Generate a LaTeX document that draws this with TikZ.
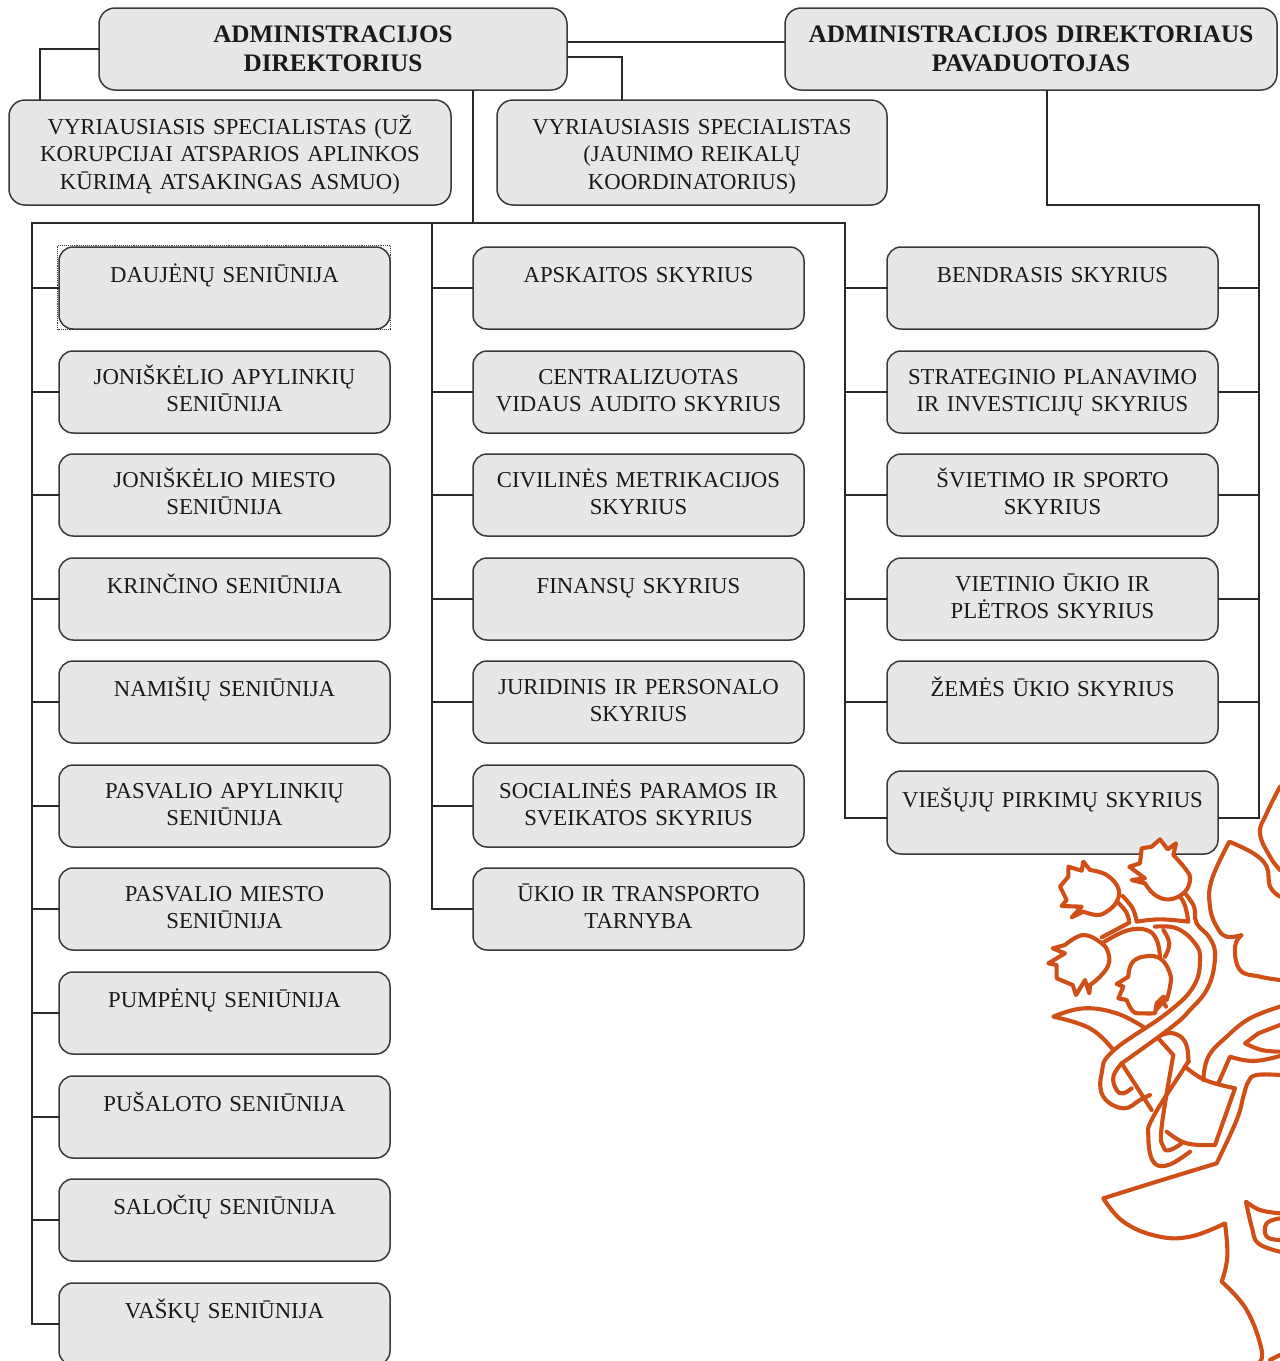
\documentclass[tikz,border=0pt]{standalone}
\usepackage{fontspec}
\setmainfont{Liberation Serif}
\definecolor{boxfill}{HTML}{E7E7E7}
\definecolor{boxline}{HTML}{3A3A3A}
\definecolor{logo}{HTML}{CF4F17}
\definecolor{txt}{HTML}{1A1A1A}
\newcommand\one[1]{\rule{0pt}{25.25pt}#1\rule[-35.75pt]{0pt}{1pt}}
\newcommand\two[2]{\rule{0pt}{24.25pt}#1\\#2\rule[-12.25pt]{0pt}{1pt}}
\newcommand\twotop[2]{\rule{0pt}{26pt}#1\\#2\rule[-10pt]{0pt}{1pt}}
\newcommand\three[3]{\rule{0pt}{26.25pt}#1\\#2\\#3\strut}
\tikzset{
  box/.style={draw=boxline,line width=1.5pt,fill=boxfill,rounded corners=14pt,anchor=north west,outer sep=0pt,
    inner sep=0pt,minimum width=331pt,minimum height=82pt,text width=329pt,align=center,text=txt,
    font=\fontsize{22.75}{27.5}\selectfont},
  topbox/.style={box,rounded corners=16pt},
  wire/.style={draw=boxline!70!black,line width=1.5pt},
  lg/.style={draw=logo,line width=4.1pt,line join=round,line cap=round},
  sm/.style={smooth,tension=.7},
}
\begin{document}
\begin{tikzpicture}[x=1pt,y=-1pt]
\useasboundingbox (0,0) rectangle (1280,1361);
\clip (0,0) rectangle (1280,1361);
\fill[white] (0,0) rectangle (1280,1361);
% top row
\node[topbox,minimum width=468pt,text width=460pt,minimum height=82pt,font=\fontsize{25.2}{28.5}\selectfont\bfseries] (dir) at (99,8) {\twotop{ADMINISTRACIJOS}{DIREKTORIUS}};
\node[topbox,minimum width=492pt,text width=484pt,minimum height=82pt,font=\fontsize{25.2}{28.5}\selectfont\bfseries] (dep) at (785,8) {\twotop{ADMINISTRACIJOS DIREKTORIAUS}{PAVADUOTOJAS}};
\node[topbox,minimum width=442pt,text width=434pt,minimum height=105pt] (vsa) at (9,100) {\three{VYRIAUSIASIS SPECIALISTAS (UŽ}{KORUPCIJAI ATSPARIOS APLINKOS}{KŪRIMĄ ATSAKINGAS ASMUO)}};
\node[topbox,minimum width=390pt,text width=382pt,minimum height=105pt] (vsb) at (497,100) {\three{VYRIAUSIASIS SPECIALISTAS}{(JAUNIMO REIKALŲ}{KOORDINATORIUS)}};
% column 1
\node[box] (a1) at (59,247) {\one{DAUJĖNŲ SENIŪNIJA}};
\node[box] (a2) at (59,351) {\two{JONIŠKĖLIO APYLINKIŲ}{SENIŪNIJA}};
\node[box] (a3) at (59,454) {\two{JONIŠKĖLIO MIESTO}{SENIŪNIJA}};
\node[box] (a4) at (59,558) {\one{KRINČINO SENIŪNIJA}};
\node[box] (a5) at (59,661) {\one{NAMIŠIŲ SENIŪNIJA}};
\node[box] (a6) at (59,765) {\two{PASVALIO APYLINKIŲ}{SENIŪNIJA}};
\node[box] (a7) at (59,868) {\two{PASVALIO MIESTO}{SENIŪNIJA}};
\node[box] (a8) at (59,972) {\one{PUMPĖNŲ SENIŪNIJA}};
\node[box] (a9) at (59,1076) {\one{PUŠALOTO SENIŪNIJA}};
\node[box] (a10) at (59,1179) {\one{SALOČIŲ SENIŪNIJA}};
\node[box] (a11) at (59,1283) {\one{VAŠKŲ SENIŪNIJA}};
% column 2
\node[box] (b1) at (473,247) {\one{APSKAITOS SKYRIUS}};
\node[box] (b2) at (473,351) {\two{CENTRALIZUOTAS}{VIDAUS AUDITO SKYRIUS}};
\node[box] (b3) at (473,454) {\two{CIVILINĖS METRIKACIJOS}{SKYRIUS}};
\node[box] (b4) at (473,558) {\one{FINANSŲ SKYRIUS}};
\node[box] (b5) at (473,661) {\two{JURIDINIS IR PERSONALO}{SKYRIUS}};
\node[box] (b6) at (473,765) {\two{SOCIALINĖS PARAMOS IR}{SVEIKATOS SKYRIUS}};
\node[box] (b7) at (473,868) {\two{ŪKIO IR TRANSPORTO}{TARNYBA}};
% column 3
\node[box] (c1) at (887,247) {\one{BENDRASIS SKYRIUS}};
\node[box] (c2) at (887,351) {\two{STRATEGINIO PLANAVIMO}{IR INVESTICIJŲ SKYRIUS}};
\node[box] (c3) at (887,454) {\two{ŠVIETIMO IR SPORTO}{SKYRIUS}};
\node[box] (c4) at (887,558) {\two{VIETINIO ŪKIO IR}{PLĖTROS SKYRIUS}};
\node[box] (c5) at (887,661) {\one{ŽEMĖS ŪKIO SKYRIUS}};
\node[box,minimum height=83pt] (c6) at (887,771) {\one{VIEŠŲJŲ PIRKIMŲ SKYRIUS}};
% selection frame
\draw[boxline,line width=.9pt,densely dotted] ([shift={(-1.5,-1.5)}]a1.north west) rectangle ([shift={(.5,.5)}]a1.south east);
% connector anchors
\coordinate (busL) at (32,223);
\coordinate (busM) at (432,223);
\coordinate (busR) at (845,223);
\coordinate (busT) at (473,223);
\coordinate (depR) at (1259,205);
\coordinate (depD) at (1047,90);
\coordinate (dirEa) at (567,42);
\coordinate (depWa) at (785,42);
\coordinate (dirEb) at (567,57);
\coordinate (vsbT) at (622,100);
\coordinate (vsaT) at (40,100);
\coordinate (dirS) at (473,90);
\coordinate (cbL) at (887,818);
\coordinate (cbR) at (1218,818);
% connectors
\draw[wire] (dir.west) -| (vsaT);
\draw[wire] (dirEa) -- (depWa);
\draw[wire] (dirEb) -| (vsbT);
\draw[wire] (dirS) -- (busT);
\draw[wire] (a11.west) -| (busL) -- (busR) |- (cbL);
\draw[wire] (busM) |- (b7.west);
\foreach \n in {a1,a2,a3,a4,a5,a6,a7,a8,a9,a10} \draw[wire] (\n.west) -- (\n.west -| busL);
\foreach \n in {b1,b2,b3,b4,b5,b6} \draw[wire] (\n.west) -- (\n.west -| busM);
\foreach \n in {c1,c2,c3,c4,c5} {\draw[wire] (\n.west) -- (\n.west -| busR);
  \draw[wire] (\n.east) -- (\n.east -| depR);}
\draw[wire] (depD) |- (depR) |- (cbR);
% emblem
\begin{scope}[shift={(1000,780)},x=.33333pt,y=-.33333pt]
\begin{scope}[lg]
% stems
\draw plot[sm] coordinates {(348,362)(378,395)(388,428)} -- (305,472);
\draw plot[sm] coordinates {(368,348)(398,385)(410,425)} -- plot[sm] coordinates {(410,425)(480,418)(565,425)} -- plot[sm] coordinates {(565,425)(556,380)(540,348)};
\draw plot[sm] coordinates {(555,340)(582,380)(590,430)(630,475)(645,530)(625,620)(570,690)(510,745)(365,850)};
\draw plot[sm] coordinates {(465,440)(530,445)(585,490)(600,540)(580,620)(500,700)(340,812)(305,880)(310,950)(370,985)(420,960)(450,945)};
\draw plot[sm] coordinates {(305,490)(380,452)(440,450)(470,480)(480,530)};
\draw plot[sm] coordinates {(490,450)(508,490)(495,530)};
% left leaf
\draw plot[sm] coordinates {(340,810)(270,745)(160,710)} -- plot[sm] coordinates {(160,710)(250,685)(350,700)(432,742)};
% first loop
\draw plot[sm] coordinates {(365,850)(340,890)(350,930)(370,940)(395,925)};
\draw (365,850) -- (455,990);
% second loop
\draw plot[sm] coordinates {(485,765)(520,760)(555,785)(565,840)(555,860)(460,1010)(445,1070)(460,1145)(505,1155)(570,1115)};
\draw plot[sm] coordinates {(475,775)(520,825)} -- plot[sm] coordinates {(520,825)(485,1040)(490,1100)(510,1110)(545,1090)};
% banner
\draw plot[sm] coordinates {(500,1055)(560,1090)(645,1095)} -- (705,925) -- plot[sm] coordinates {(705,925)(615,900)(555,860)};
% right stems
\draw plot[sm] coordinates {(610,900)(625,830)(680,770)(750,715)(840,680)};
\draw (655,910) -- (690,830) -- plot[sm] coordinates {(690,830)(760,843)(840,828)};
\draw plot[sm] coordinates {(840,735)(775,760)} -- (735,790) -- plot[sm] coordinates {(735,790)(785,810)(840,815)};
% lower leaf
\draw plot[sm] coordinates {(840,885)(770,885)(745,905)(730,950)(710,1020)(650,1150)} -- plot[sm] coordinates {(650,1150)(470,1205)(310,1255)} -- plot[sm] coordinates {(310,1255)(370,1325)(470,1368)(570,1370)(675,1330)} -- plot[sm] coordinates {(675,1330)(682,1430)(665,1505)} -- plot[sm] coordinates {(665,1505)(740,1590)(785,1710)(775,1750)};
\draw plot[sm] coordinates {(840,1300)(780,1290)(738,1265)} -- plot[sm] coordinates {(738,1265)(755,1340)(775,1390)(840,1415)};
\draw plot[sm] coordinates {(840,1315)(800,1330)(800,1370)(840,1380)};
\draw (810,1740) -- (840,1725);
% right leaves
\draw plot[sm] coordinates {(840,350)(810,320)(800,260)(760,220)(688,185)} -- plot[sm] coordinates {(688,185)(635,300)(630,380)(650,440)(680,470)(725,465)} -- plot[sm] coordinates {(725,465)(705,500)(720,570)(780,590)(840,600)};
\draw plot[sm] coordinates {(840,20)(800,100)(780,160)(810,230)(840,270)};
% flowers
\filldraw[fill=white] (425,205) -- (455,200) -- (480,178) -- (503,208) -- (528,190) -- plot[sm] coordinates {(520,225)(555,265)(570,295)(555,335)(510,358)(465,345)(435,310)} -- (395,300) -- (435,295) -- (388,260) -- (420,250) -- cycle;
\filldraw[fill=white] (180,320) -- (205,290) -- (205,260) -- (245,272) -- (250,245) -- plot[sm] coordinates {(270,270)(320,285)(355,325)(350,365)(320,395)(290,405)(250,395)} -- (215,412) -- (245,380) -- (185,378) -- (200,360) -- cycle;
\filldraw[fill=white] plot[sm] coordinates {(195,495)(250,465)(305,490)(325,520)(325,555)(300,590)(270,615)} -- (268,640) -- (255,600) -- (228,645) -- (218,615) -- (170,595) -- (170,555) -- (145,550) -- (195,520) -- (158,505) -- cycle;
\filldraw[fill=white] plot[sm] coordinates {(385,590)(395,550)(430,530)(480,535)(510,580)(510,620)(500,660)} -- (490,650) -- (470,670) -- (465,700) -- plot[sm] coordinates {(465,700)(430,700)(400,695)(380,660)} -- (355,655) -- (370,620) -- (350,612) -- cycle;
\draw (468,690) -- (490,665) -- (498,680);
\end{scope}
\end{scope}
\end{tikzpicture}
\end{document}
